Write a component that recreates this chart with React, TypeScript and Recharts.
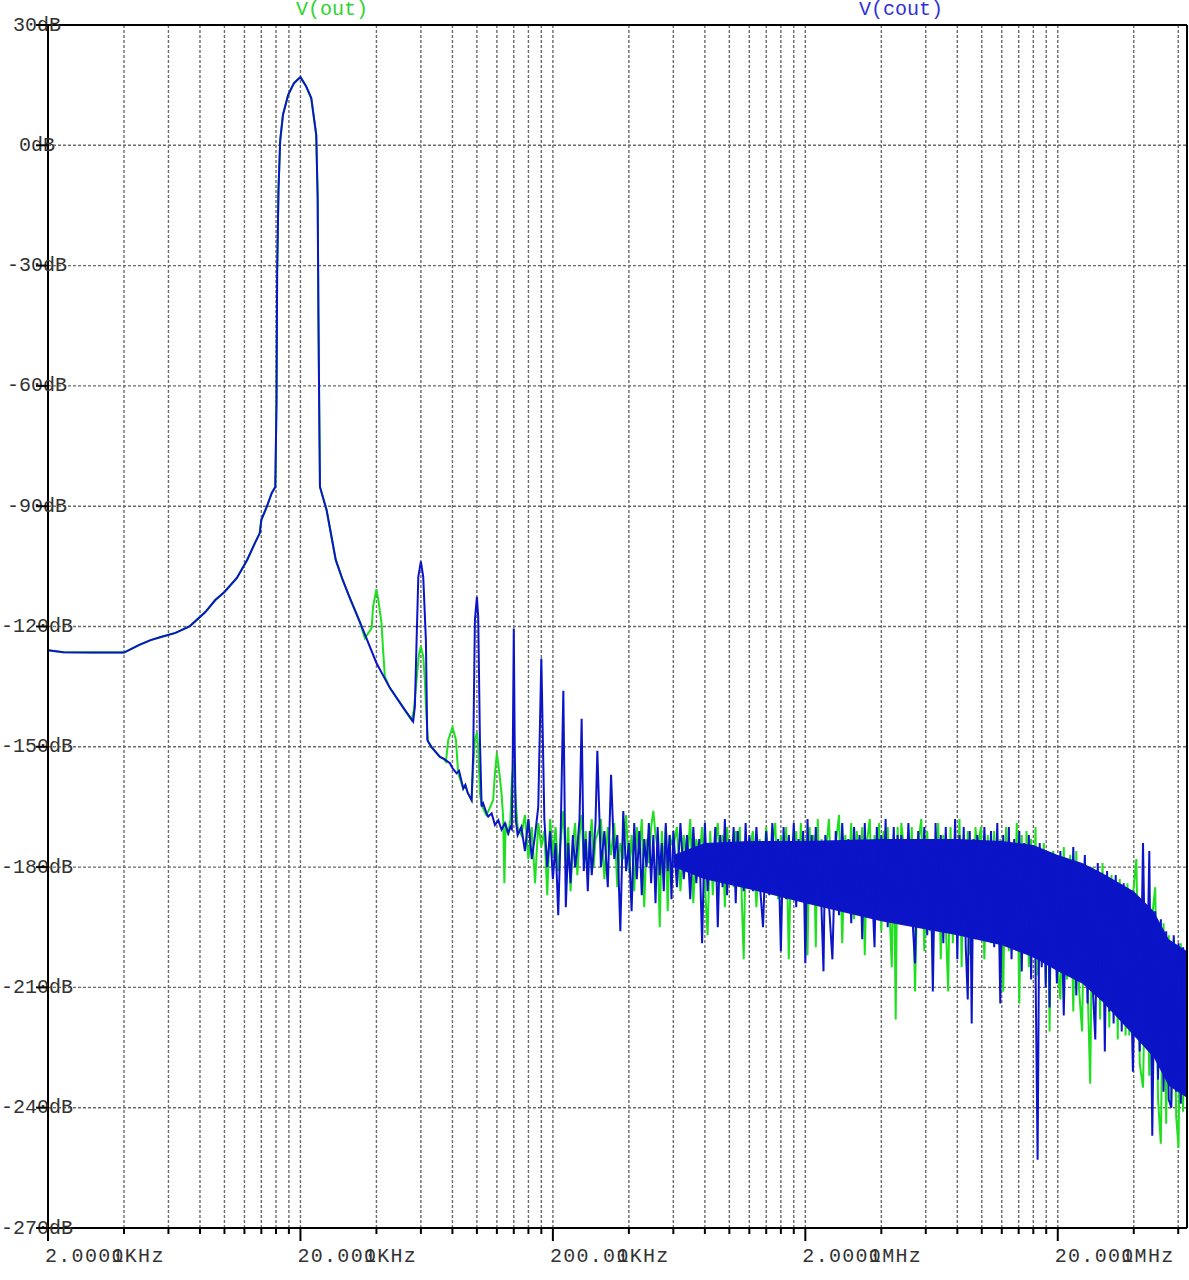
import React from 'react';
import { ComposedChart, Line, Area, XAxis, YAxis, CartesianGrid, ReferenceLine } from 'recharts';

const W = 1189;
const H = 1280;
const MONO = "'Liberation Mono', 'DejaVu Sans Mono', monospace";
const GREEN = '#1fe01f';
const BLUE = '#0c14c8';

// frequencies in kHz
const xTicks = [2, 4, 6, 8, 10, 12, 14, 16, 18, 20, 40, 60, 80, 100, 120, 140, 160, 180, 200, 400, 600, 800, 1000, 1200, 1400, 1600, 1800, 2000, 4000, 6000, 8000, 10000, 12000, 14000, 16000, 18000, 20000, 40000, 60000];
const majorTicks = [2, 20, 200, 2000, 20000];
const majorLabels = ['2.0000KHz', '20.000KHz', '200.00KHz', '2.0000MHz', '20.000MHz'];
const yTicks = [30, 0, -30, -60, -90, -120, -150, -180, -210, -240, -270];
const yLabels = ['30dB', '0dB', '-30dB', '-60dB', '-90dB', '-120dB', '-150dB', '-180dB', '-210dB', '-240dB', '-270dB'];

// shared part of both traces (2k .. 34.4k), the 20kHz fundamental
const mainF = [2, 2.3, 3, 4, 4.3, 4.6, 5.1, 5.6, 6.4, 7.3, 8.4, 9.2, 10, 11.2, 12.3, 13.2, 13.8, 14, 14.7, 15.4, 15.9, 16.08, 16.17, 16.37, 16.63, 17.05, 17.87, 18.85, 20, 21.03, 22.07, 23.1, 23.4, 23.56, 23.77, 23.9, 25.4, 27.6, 29.4, 31.4, 34.4];
const mainDb = [-125.9, -126.4, -126.5, -126.5, -125.5, -124.6, -123.4, -122.6, -121.6, -119.9, -116.4, -113.4, -111.4, -107.9, -103.4, -99.2, -96.7, -93.4, -90.2, -86.7, -85.2, -63.5, -31.8, -11.1, 1.3, 7.6, 12.5, 15.5, 17.0, 14.8, 11.8, 2.6, -12.9, -41.8, -70.2, -85.2, -91, -103.4, -108.4, -112.9, -118.9];

// V(cout) harmonics region
const coutTailF = [40, 45.2, 51.8, 55.9, 56.8, 57.7, 58.6, 60, 61.3, 62.8, 63.6, 64.1, 66, 71.4, 74, 78.2, 80, 83.1, 85, 88.3, 90, 92, 95.3, 96.7, 98.2, 100, 101.2, 102.8, 104.4, 105.9, 109.2, 110.9, 114.4, 117.9, 121.6, 125.2, 129.1, 133.1, 135.8, 137.5, 138.8, 140, 141.2, 142.5, 145];
const coutTailDb = [-129.1, -135.3, -140.8, -143.7, -140, -123.4, -107.6, -103.8, -107.6, -123.4, -148.3, -148.7, -150, -152.5, -153, -154.1, -155.3, -156.6, -156, -160.4, -159.5, -161.5, -163.3, -151.6, -118.4, -112.6, -117.6, -148.3, -164.9, -164.1, -166.6, -167.4, -166.6, -169.5, -168.3, -170.7, -169.1, -171.6, -170, -170.5, -150, -120.5, -150, -168, -172];

// V(out) harmonics region
const outTailF = [36, 38.3, 38.8, 40, 40.7, 41.9, 42.5, 43.2, 45.2, 51.8, 55.1, 56.3, 57.7, 58.9, 60, 61.3, 62.2, 62.8, 63.6, 64.1, 66, 71.4, 74, 75.4, 77, 80.1, 82.6, 84.3, 88.3, 90, 92, 95.3, 96.7, 98.2, 100, 101.2, 102.8, 104.4, 105, 109, 112, 116, 117.9, 120, 122.8, 125.2, 127, 128.5, 130, 133, 135.8, 137.5, 140, 141.4, 143.7, 145];
const outTailDb = [-122.9, -120.4, -115, -110.7, -113.4, -119.2, -125.9, -132.5, -135.3, -140.8, -143.3, -140.8, -133.3, -127.1, -124.9, -127.5, -133.3, -140, -145.8, -148.7, -150, -152.5, -153, -153.7, -148.3, -145.1, -148.3, -156.6, -160.4, -159.5, -161.5, -163.3, -155, -148.3, -146.5, -150, -161.6, -164.5, -165, -167, -165.5, -163.3, -156.6, -151.6, -156.6, -161.6, -167.4, -184, -169, -172, -168, -158.3, -153.7, -160, -166.6, -170];

// noise floor, 150k .. 65M
const noiseF = [
  150, 155, 160, 165, 170, 175, 180, 185, 190, 195, 200, 205, 210, 215, 220, 225, 230, 235, 240, 245, 250, 255, 260, 265, 270, 275, 280, 285, 290, 295,
  300, 310, 320, 330, 340, 350, 360, 370, 380, 390, 400, 410, 420, 430, 440, 450, 460, 470, 480, 490, 500, 510, 520, 530, 540, 550, 560, 570, 580, 590,
  600, 620, 640, 660, 680, 700, 720, 740, 760, 780, 800, 820, 840, 860, 880, 900, 920, 940, 960, 980, 1000, 1020, 1040, 1060, 1080, 1100, 1120, 1140, 1160, 1180,
  1200, 1240, 1280, 1320, 1360, 1400, 1440, 1480, 1520, 1560, 1600, 1640, 1680, 1720, 1760, 1800, 1840, 1880, 1920, 1960, 2000, 2040, 2080, 2120, 2160, 2200, 2240, 2280, 2320, 2360,
  2400, 2480, 2560, 2640, 2720, 2800, 2880, 2960, 3040, 3120, 3200, 3280, 3360, 3440, 3520, 3600, 3680, 3760, 3840, 3920, 4000, 4080, 4160, 4240, 4320, 4400, 4480, 4560, 4640, 4720,
  4800, 4960, 5120, 5280, 5440, 5600, 5760, 5920, 6080, 6240, 6400, 6560, 6720, 6880, 7040, 7200, 7360, 7520, 7680, 7840, 8000, 8160, 8320, 8480, 8640, 8800, 8960, 9120, 9280, 9440,
  9600, 9920, 10240, 10560, 10880, 11200, 11520, 11840, 12160, 12480, 12800, 13120, 13440, 13760, 14080, 14400, 14720, 15040, 15360, 15680, 16000, 16320, 16640, 16960, 17280, 17600, 17920, 18240, 18560, 18880,
  19200, 19840, 20480, 21120, 21760, 22400, 23040, 23680, 24320, 24960, 25600, 26240, 26880, 27520, 28160, 28800, 29440, 30080, 30720, 31360, 32000, 32640, 33280, 33920, 34560, 35200, 35840, 36480, 37120, 37760,
  38400, 39680, 40960, 42240, 43520, 44800, 46080, 47360, 48640, 49920, 51200, 52480, 53760, 55040, 56320, 57600, 58880, 60160, 61440, 62720, 64000, 65000,
];
const coutNoise = [
  -170, -176, -168, -178, -172, -165, -128, -168, -180, -171, -183, -174, -192, -170, -136, -190, -174, -184, -172, -180, -175, -168, -143, -181, -173, -186, -171, -182, -176, -169,
  -151, -180, -171, -185, -157, -178, -172, -196, -166, -181, -174, -191, -169, -183, -171, -187, -173, -180, -169, -184, -172, -189, -170, -182, -174, -186, -169, -181, -172, -188,
  -171, -185, -169, -183, -172, -188, -170, -184, -173, -199, -169, -186, -174, -182, -170, -195, -172, -185, -168, -187, -173, -181, -170, -189, -171, -184, -174, -186, -169, -183,
  -172, -186, -170, -184, -195, -171, -187, -169, -185, -173, -201, -170, -188, -172, -183, -169, -190, -173, -186, -171, -204, -168, -187, -172, -189, -170, -185, -174, -191, -206,
  -172, -189, -203, -171, -192, -169, -187, -173, -194, -170, -188, -172, -198, -169, -191, -174, -186, -200, -170, -193, -172, -188, -168, -195, -173, -189, -170, -194, -172, -190,
  -172, -194, -169, -190, -204, -171, -192, -170, -197, -173, -211, -169, -193, -172, -199, -170, -195, -173, -191, -168, -203, -172, -196, -170, -200, -213, -171, -219, -173, -198,
  -172, -197, -170, -194, -171, -200, -169, -214, -172, -198, -170, -203, -173, -199, -171, -206, -174, -201, -172, -208, -175, -204, -253, -174, -205, -176, -210, -177, -215, -178,
  -180, -209, -176, -217, -178, -206, -175, -212, -179, -208, -177, -214, -180, -210, -223, -179, -213, -182, -226, -181, -216, -183, -219, -182, -214, -185, -221, -184, -218, -187,
  -186, -231, -188, -226, -174, -222, -176, -247, -191, -233, -193, -236, -196, -238, -240, -197, -236, -199, -239, -200, -237, -199,
];
const outNoise = [
  -172, -167, -178, -170, -184, -169, -175, -171, -187, -168, -177, -170, -181, -173, -166, -179, -170, -186, -174, -169, -182, -172, -167, -178, -171, -183, -174, -168, -180, -173,
  -172, -168, -183, -170, -177, -169, -185, -174, -178, -167, -181, -172, -186, -170, -176, -168, -190, -173, -179, -170, -166, -172, -175, -195, -171, -180, -170, -191, -172, -174,
  -175, -170, -186, -172, -180, -168, -189, -173, -178, -170, -184, -197, -171, -187, -174, -169, -183, -172, -190, -170, -179, -174, -185, -171, -176, -170, -188, -203, -175, -181,
  -176, -171, -190, -173, -182, -170, -186, -174, -169, -188, -172, -183, -170, -203, -174, -181, -171, -187, -169, -184, -173, -202, -170, -185, -172, -200, -168, -189, -173, -184,
  -178, -168, -190, -174, -167, -199, -172, -185, -169, -193, -171, -186, -170, -202, -173, -168, -190, -172, -184, -169, -196, -171, -187, -170, -192, -205, -172, -218, -170, -189,
  -169, -178, -192, -170, -211, -174, -168, -201, -171, -196, -175, -188, -169, -203, -172, -194, -211, -170, -199, -173, -189, -168, -205, -172, -193, -171, -202, -174, -196, -170,
  -176, -170, -203, -172, -199, -171, -195, -173, -211, -170, -201, -174, -197, -169, -214, -172, -200, -171, -205, -173, -202, -170, -207, -175, -199, -174, -209, -176, -221, -177,
  -176, -202, -213, -175, -208, -177, -216, -176, -211, -221, -178, -209, -234, -180, -212, -181, -218, -179, -211, -183, -220, -182, -215, -184, -223, -183, -217, -186, -222, -184,
  -222, -187, -178, -229, -235, -190, -232, -192, -185, -238, -249, -194, -244, -197, -239, -198, -242, -250, -199, -241, -201, -238,
];

// solid core of the V(cout) noise band
const bandF = [600, 800, 1200, 2000, 4000, 8000, 12000, 16000, 20000, 25000, 30000, 40000, 48000, 55000, 65000];
const bandTop = [-177, -174, -173.5, -173.5, -173, -173, -173.5, -174.5, -177, -179, -181.5, -186, -191, -198, -201];
const bandBottom = [-180, -183, -185.5, -189, -193.5, -197, -199.5, -202.5, -206, -209, -213.5, -222, -227.5, -234.5, -237.5];

const coutData = [
  ...mainF.map((f, i) => ({ f, v: mainDb[i] })),
  ...coutTailF.map((f, i) => ({ f, v: coutTailDb[i] })),
  ...noiseF.map((f, i) => ({ f, v: coutNoise[i] })),
];
const outData = [
  ...mainF.map((f, i) => ({ f, v: mainDb[i] })),
  ...outTailF.map((f, i) => ({ f, v: outTailDb[i] })),
  ...noiseF.map((f, i) => ({ f, v: outNoise[i] })),
];
const bandData = bandF.map((f, i) => ({ f, band: [bandBottom[i], bandTop[i]] }));

function XTick(props: any) {
  const { x, y, payload } = props;
  const idx = majorTicks.indexOf(payload.value);
  const major = idx >= 0;
  const adv = 13.3;
  return (
    <g>
      <line x1={x} x2={x} y1={y} y2={y + (major ? 13 : 6)} stroke="#000" strokeWidth={2} />
      {major && (
        <>
          <text x={x - 3} y={y + 34} fontFamily={MONO} fontSize={20} letterSpacing={1.3} fill="#333">{majorLabels[idx]}</text>
          <text x={x - 3 + 5 * adv} y={y + 34} fontFamily={MONO} fontSize={20} fill="#333">1</text>
        </>
      )}
    </g>
  );
}

function YTick(props: any) {
  const { x, y, payload } = props;
  const idx = yTicks.indexOf(payload.value);
  return (
    <g>
      <text x={x - 11} y={y} textAnchor="middle" dominantBaseline="central" fontFamily={MONO} fontSize={20} fill="#333">{yLabels[idx]}</text>
      <line x1={x - 12} x2={x} y1={y} y2={y} stroke="#000" strokeWidth={2} />
    </g>
  );
}

export default function App() {
  return (
    <div style={{ position: 'absolute', left: 0, top: 0, width: W, height: H, background: '#fff' }}>
      <ComposedChart width={W} height={H} margin={{ top: 25, right: 2, bottom: 0, left: 0 }}>
        <CartesianGrid stroke="#6a6a6a" strokeDasharray="3 2" strokeWidth={1.4} />
        <XAxis dataKey="f" type="number" scale="log" domain={[2, 65000]} ticks={xTicks} interval={0} height={52}
          tickSize={0} tickMargin={0} tickLine={false} axisLine={{ stroke: '#000', strokeWidth: 2 }} tick={(p: any) => <XTick {...p} />} allowDataOverflow />
        <YAxis type="number" domain={[-270, 30]} ticks={yTicks} interval={0} width={48}
          tickSize={0} tickMargin={0} tickLine={false} axisLine={{ stroke: '#000', strokeWidth: 2 }} tick={(p: any) => <YTick {...p} />} allowDataOverflow />
        {/* V(out) drawn as an unfilled Area so it stays beneath the V(cout) band */}
        <Area data={outData} dataKey="v" type="linear" stroke={GREEN} strokeWidth={2} fill="none" dot={false} activeDot={false} isAnimationActive={false} />
        <Area data={bandData} dataKey="band" type="linear" stroke="none" fill={BLUE} fillOpacity={1} isAnimationActive={false} />
        <Line data={coutData} dataKey="v" stroke={BLUE} strokeWidth={2} dot={false} isAnimationActive={false} />
        <ReferenceLine y={30} stroke="#000" strokeWidth={2} />
        <ReferenceLine x={65000} stroke="#000" strokeWidth={2} />
      </ComposedChart>
      <div style={{ position: 'absolute', left: 332, top: 0, transform: 'translateX(-50%)', fontFamily: MONO, fontSize: 20, lineHeight: '20px', color: '#2ed32e' }}>V(out)</div>
      <div style={{ position: 'absolute', left: 901, top: 0, transform: 'translateX(-50%)', fontFamily: MONO, fontSize: 20, lineHeight: '20px', color: '#2f2fd8' }}>V(cout)</div>
    </div>
  );
}
